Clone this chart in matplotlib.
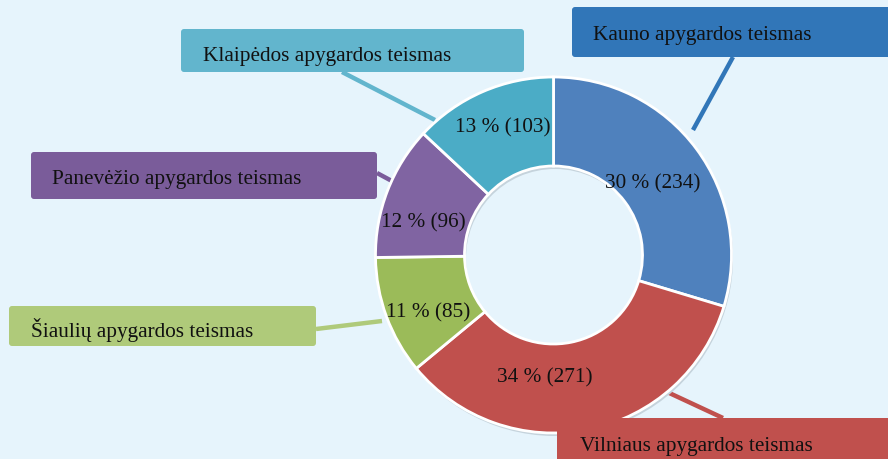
import matplotlib.pyplot as plt
from matplotlib.patches import FancyBboxPatch

# court names, case counts and shares (clockwise from 12 o'clock)
courts = ['Kauno apygardos teismas', 'Vilniaus apygardos teismas',
          'Šiaulių apygardos teismas', 'Panevėžio apygardos teismas',
          'Klaipėdos apygardos teismas']
cases = [234, 271, 85, 96, 103]
shares = [30, 34, 11, 12, 13]

wedge_colors = ['#4f81bd', '#c0504d', '#9bbb59', '#8064a2', '#4bacc6']
box_colors = ['#3176b8', '#c0504d', '#afca7a', '#7a5c9a', '#62b5cd']

W, H = 888, 459

# layout in pixels from top-left: box (x0, y0, x1, y1), text baseline, leader, pct label
boxes = [(572, 7, 900, 57), (557, 418, 900, 470), (9, 306, 316, 346),
         (31, 152, 377, 199), (181, 29, 524, 72)]
text_pos = [(593, 40), (580, 451), (31, 337), (52, 184), (203, 61)]
leaders = [((733, 57), (693, 130)), ((723, 418), (665, 391)),
           ((316, 329), (382, 321)), ((377, 173), (403, 187)),
           ((342, 72), (435, 120))]
pct_pos = [(653, 188), (545, 382), (428, 317), (423, 227), (503, 132)]


def flip(p):
    return p[0], H - p[1]


plt.rcParams['font.family'] = ['Liberation Serif', 'DejaVu Serif']

fig = plt.figure(figsize=(W / 100, H / 100), dpi=100)
fig.patch.set_facecolor('#e6f4fc')
ax = fig.add_axes([0, 0, 1, 1])

cx, cy, R = 553.5, H - 255, 178

# soft shadow under the ring
ax.pie(cases, radius=R, center=(cx + 1.5, cy - 3), startangle=90,
       counterclock=False, colors=['#c5d3dc'] * len(cases),
       wedgeprops=dict(width=R * 0.5, linewidth=0))

# leader lines sit under the ring
for (p0, p1), col in zip(leaders, box_colors):
    a, b = flip(p0), flip(p1)
    ax.plot([a[0], b[0]], [a[1], b[1]], color=col, lw=3.2,
            solid_capstyle='butt', zorder=0.5)

wedges, _ = ax.pie(cases, radius=R, center=(cx, cy), startangle=90,
                   counterclock=False, colors=wedge_colors,
                   wedgeprops=dict(width=R * 0.5, edgecolor='white',
                                   linewidth=2))

for name, share, n, (x0, y0, x1, y1), tp, pp, col in zip(
        courts, shares, cases, boxes, text_pos, pct_pos, box_colors):
    patch = FancyBboxPatch((x0, H - y1), x1 - x0, y1 - y0,
                           boxstyle='round,pad=0,rounding_size=3',
                           facecolor=col, edgecolor='none', zorder=3)
    ax.add_patch(patch)
    ax.text(*flip(tp), name, fontsize=15.3, color='#111111',
            ha='left', va='baseline', zorder=4)
    ax.text(*flip(pp), f'{share} % ({n})', fontsize=15.3, color='#111111',
            ha='center', va='baseline', zorder=4)

ax.set_xlim(0, W)
ax.set_ylim(0, H)
ax.set_aspect('equal')
ax.axis('off')

fig.savefig('out.png', dpi=100, facecolor=fig.get_facecolor())
